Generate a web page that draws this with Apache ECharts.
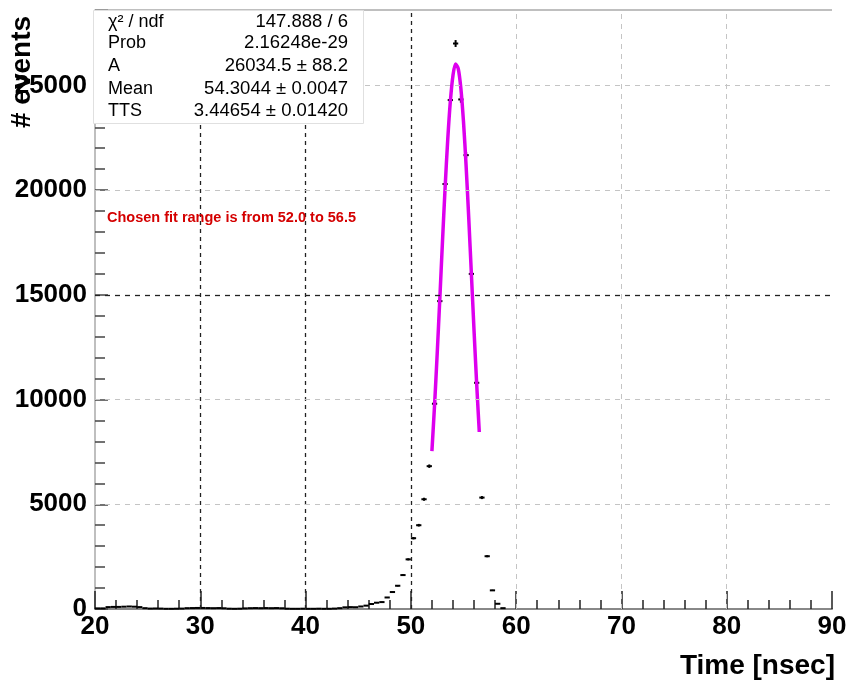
<!DOCTYPE html>
<html>
<head>
<meta charset="utf-8">
<script src="https://cdn.jsdelivr.net/npm/echarts@6/dist/echarts.min.js"></script>
<style>
html,body{margin:0;padding:0;background:#fff;}
#chart{width:852px;height:685px;}
</style>
</head>
<body>
<div id="chart"></div>
<script>
// Histogram bin centres (ns) and counts
const binCenters = [20.25,20.75,21.25,21.75,22.25,22.75,23.25,23.75,24.25,24.75,
  25.25,25.75,26.25,26.75,27.25,27.75,28.25,28.75,29.25,29.75,
  30.25,30.75,31.25,31.75,32.25,32.75,33.25,33.75,34.25,34.75,
  35.25,35.75,36.25,36.75,37.25,37.75,38.25,38.75,39.25,39.75,
  40.25,40.75,41.25,41.75,42.25,42.75,43.25,43.75,44.25,44.75,
  45.25,45.75,46.25,46.75,47.25,47.75,48.25,48.75,49.25,49.75,
  50.25,50.75,51.25,51.75,52.25,52.75,53.25,53.75,54.25,54.75,
  55.25,55.75,56.25,56.75,57.25,57.75,58.25,58.75];
const binCounts = [30,30,90,100,100,110,120,110,90,40,
  20,25,20,10,10,15,20,40,45,50,
  50,45,40,45,35,15,10,15,30,40,
  45,40,45,40,45,35,15,10,10,15,
  10,10,15,10,10,20,40,80,90,85,
  120,160,240,300,330,550,810,1110,1620,2370,
  3380,4000,5240,6820,9800,14700,20290,24300,27000,24330,
  21670,16000,10800,5320,2520,890,250,40];
const binHalfWidth = 0.25;

// Fit curve points
const fitX = [52.0,52.25,52.5,52.75,53.0,53.25,53.5,53.75,54.0,54.25,54.5,54.75,55.0,55.25,55.5,55.75,56.0,56.25,56.5];
const fitY = [7537,9722,12176,14811,17503,20083,22384,24233,25477,26017,25803,24855,23254,21129,18649,15985,13306,10760,8451];

// Axis ticks
const xTicks = [20,30,40,50,60,70,80,90];
const yTicks = [0,5000,10000,15000,20000,25000];
const darkXGrid = [30,40,50];
const lightXGrid = [60,70,80];
const darkYGrid = [15000];
const lightYGrid = [5000,10000,20000,25000];

// Stats box
const statNames = ['\u03C7\u00B2 / ndf','Prob','A','Mean','TTS'];
const statValues = ['147.888 / 6','2.16248e-29','26034.5 \u00B1 88.2','54.3044 \u00B1 0.0047','3.44654 \u00B1 0.01420'];
const fitNote = 'Chosen fit range is from 52.0 to 56.5';

const FONT = '"Liberation Sans", Arial, Helvetica, sans-serif';
const chart = echarts.init(document.getElementById('chart'), null, {renderer:'canvas'});

const histData = binCenters.map((c,i)=>[c, binCounts[i]]);
const fitData = fitX.map((x,i)=>[x, fitY[i]]);

const gridMarks = [];
darkXGrid.forEach(v=>gridMarks.push({xAxis:v, lineStyle:{color:'#222', width:1.3, type:[4,4]}}));
lightXGrid.forEach(v=>gridMarks.push({xAxis:v, lineStyle:{color:'#c4c4c4', width:1, type:[5,5]}}));
darkYGrid.forEach(v=>gridMarks.push({yAxis:v, lineStyle:{color:'#222', width:1.3, type:[5,5]}}));
lightYGrid.forEach(v=>gridMarks.push({yAxis:v, lineStyle:{color:'#c4c4c4', width:1, type:[5,5]}}));
gridMarks.push({yAxis:28600, lineStyle:{color:'#aaa', width:1.5, type:'solid'}});

const statsGraphics = [{
  type:'rect', left:93, top:10, shape:{width:270, height:113},
  style:{fill:'#fff', stroke:'#e0e0e0', lineWidth:1}, z:50
}];
const rowY = [22,43,66,89,111];
statNames.forEach((n,i)=>{
  statsGraphics.push({type:'text', x:108, y:rowY[i], z:51,
    style:{text:n, font:'18px '+FONT, fill:'#000', textAlign:'left', textVerticalAlign:'middle'}});
  statsGraphics.push({type:'text', x:348, y:rowY[i], z:51,
    style:{text:statValues[i], font:'18.5px '+FONT, fill:'#000', textAlign:'right', textVerticalAlign:'middle'}});
});

chart.setOption({
  animation:false,
  backgroundColor:'#fff',
  grid:{left:95, right:20, top:10, bottom:76, containLabel:false},
  xAxis:{
    type:'value', min:20, max:90, interval:10,
    axisLine:{show:true, onZero:false, lineStyle:{color:'#888', width:2}},
    axisTick:{show:true, inside:true, length:18, lineStyle:{color:'#222', width:1.5}},
    minorTick:{show:true, splitNumber:5, length:9, lineStyle:{color:'#222', width:1.5}},
    splitLine:{show:false},
    axisLabel:{color:'#000', fontSize:26, fontWeight:'bold', fontFamily:FONT, margin:5,
      formatter:v=> xTicks.indexOf(v)>=0 ? String(v) : ''}
  },
  yAxis:{
    type:'value', min:0, max:28600, interval:5000,
    axisLine:{show:true, lineStyle:{color:'#aaa', width:1.5}},
    axisTick:{show:true, inside:true, length:13, lineStyle:{color:'#444', width:1.5}},
    minorTick:{show:true, splitNumber:5, length:10, lineStyle:{color:'#444', width:1.5}},
    splitLine:{show:false},
    axisLabel:{color:'#000', fontSize:26, fontWeight:'bold', fontFamily:FONT, margin:8,
      showMaxLabel:false,
      formatter:v=> yTicks.indexOf(v)>=0 ? String(v) : ''}
  },
  graphic:[
    ...statsGraphics,
    {type:'text', x:107, y:218, z:40,
      style:{text:fitNote, font:'bold 14.5px '+FONT, fill:'#d40000', textAlign:'left', textVerticalAlign:'middle'}},
    {type:'text', x:835, y:666, z:40,
      style:{text:'Time [nsec]', font:'bold 28px '+FONT, fill:'#000', textAlign:'right', textVerticalAlign:'middle'}},
    {type:'text', x:22, y:72, rotation:Math.PI/2, z:60,
      style:{text:'# events', font:'bold 28px '+FONT, fill:'#000', textAlign:'center', textVerticalAlign:'middle'}}
  ],
  series:[
    {type:'line', data:[], silent:true, z:1,
      markLine:{silent:true, symbol:['none','none'], label:{show:false}, animation:false, data:gridMarks}},
    {type:'custom', data:histData, z:3, silent:true,
      renderItem:function(params, api){
        const c = api.value(0), v = api.value(1), e = Math.sqrt(v);
        const a = api.coord([c-binHalfWidth, v]), b = api.coord([c+binHalfWidth, v]);
        const t = api.coord([c, v+e]), d = api.coord([c, v-e]);
        return {type:'group', children:[
          {type:'line', shape:{x1:a[0],y1:a[1],x2:b[0],y2:b[1]}, style:{stroke:'#000', lineWidth:2}},
          {type:'line', shape:{x1:t[0],y1:t[1],x2:d[0],y2:d[1]}, style:{stroke:'#000', lineWidth:2}}
        ]};
      }},
    {type:'line', data:fitData, showSymbol:false, smooth:0.3, z:4, silent:true,
      lineStyle:{color:'#dd00ee', width:3.5}}
  ]
});
</script>
</body>
</html>
